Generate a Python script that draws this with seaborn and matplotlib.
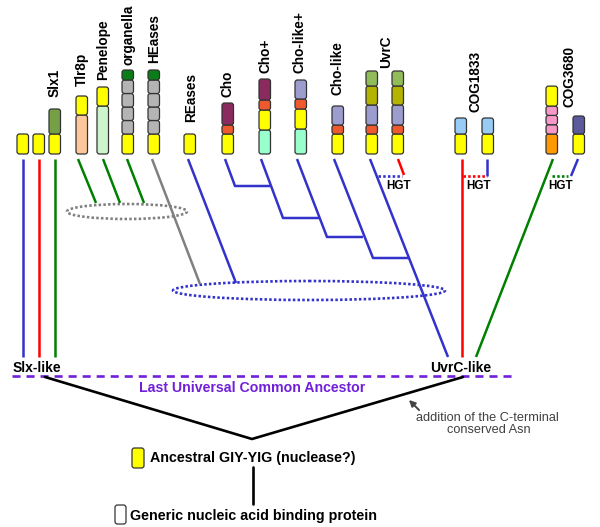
import pandas as pd
import matplotlib.pyplot as plt
from matplotlib.patches import FancyBboxPatch, Ellipse
import seaborn as sns

# domain colours
YEL = '#ffff00'
SLX = '#76a045'
PEACH = '#fcc89b'
PALE = '#ccf5cc'
DKGRN = '#0b7d16'
GRAY = '#b4b4b4'
MAROON = '#8b2a5e'
RED = '#ee5a2e'
AQUA = '#99ffcc'
LAV = '#9c9ccf'
LTGRN = '#92bc5a'
OLIVE = '#b3b300'
LTBLUE = '#99ccf5'
PINK = '#f799c8'
ORANGE = '#ff9900'
SLATE = '#5b5b9b'

# domain stacks (top -> bottom): colour and block height
col_left = [17, 33, 49, 76, 97, 122, 148, 184, 222, 259, 295, 332, 366, 392, 455, 482, 546, 573]
col_domains = [
    [(YEL, 20)],
    [(YEL, 20)],
    [(SLX, 25), (YEL, 20)],
    [(YEL, 19), (PEACH, 39)],
    [(YEL, 19), (PALE, 48)],
    [(DKGRN, 10), (GRAY, 13.5), (GRAY, 13.5), (GRAY, 13.5), (GRAY, 13.5), (YEL, 20)],
    [(DKGRN, 10), (GRAY, 13.5), (GRAY, 13.5), (GRAY, 13.5), (GRAY, 13.5), (YEL, 20)],
    [(YEL, 20)],
    [(MAROON, 22), (RED, 9), (YEL, 20)],
    [(MAROON, 21), (RED, 10), (YEL, 20), (AQUA, 24)],
    [(LAV, 19), (RED, 10), (YEL, 20), (AQUA, 25)],
    [(LAV, 19), (RED, 9), (YEL, 20)],
    [(LTGRN, 15), (OLIVE, 19), (LAV, 20), (RED, 9), (YEL, 20)],
    [(LTGRN, 15), (OLIVE, 19), (LAV, 20), (RED, 9), (YEL, 20)],
    [(LTBLUE, 16), (YEL, 20)],
    [(LTBLUE, 16), (YEL, 20)],
    [(YEL, 20), (PINK, 9.3), (PINK, 9.3), (PINK, 9.3), (ORANGE, 20)],
    [(SLATE, 18), (YEL, 20)],
]

# rotated family labels
fam_names = ['Slx1', 'Tlr8p', 'Penelope', 'organella', 'HEases', 'REases', 'Cho', 'Cho+',
             'Cho-like+', 'Cho-like', 'UvrC', 'COG1833', 'COG3680']
fam_x = [55, 82, 103, 128, 154, 191, 228, 265, 300, 337, 386, 476, 570]
fam_bottom = [97, 86, 80, 65, 63, 122, 97, 73, 73, 95, 68, 112, 107]

# tree branches
BLUE = '#3333cc'
branches = [
    ('slx_a', BLUE, [(23, 159), (23, 357)]),
    ('slx_b', '#ff0000', [(39, 159), (39, 357)]),
    ('slx_c', '#008000', [(55, 159), (55, 357)]),
    ('tlr8p', '#008000', [(78, 159), (96, 203)]),
    ('penelope', '#008000', [(103, 159), (120, 203)]),
    ('organella', '#008000', [(127, 159), (144, 203)]),
    ('heases', '#808080', [(152, 159), (200, 284)]),
    ('reases', BLUE, [(188, 159), (236, 283)]),
    ('cho', BLUE, [(225, 159), (235, 186), (270, 186)]),
    ('cho_plus', BLUE, [(261, 159), (283, 218), (320, 218)]),
    ('cholike_plus', BLUE, [(297, 159), (327, 237), (363, 237)]),
    ('cholike', BLUE, [(334, 159), (373, 258), (409, 258)]),
    ('uvrc', BLUE, [(370, 159), (448, 357)]),
    ('uvrc_hgt', '#ff0000', [(398, 159), (404, 175)]),
    ('cog1833', '#ff0000', [(462, 159), (462, 357)]),
    ('cog1833_hgt', BLUE, [(487, 159), (487, 176)]),
    ('cog3680', '#008000', [(553, 159), (476, 357)]),
    ('cog3680_hgt', BLUE, [(578, 159), (571, 176)]),
]

# horizontal gene transfer links
hgt_x0 = [378, 463, 552]
hgt_x1 = [402, 487, 568]
hgt_colors = [BLUE, '#ff0000', '#008000']
hgt_label_x = [399, 479, 561]

PURPLE = '#7020d8'


def main():
    sns.set_theme(style='white')
    plt.rcParams['font.family'] = ['Liberation Sans', 'DejaVu Sans']
    plt.rcParams['lines.scale_dashes'] = False

    fig = plt.figure(figsize=(6, 5.27), dpi=100)
    ax = fig.add_axes([0, 0, 1, 1])

    # domain blocks
    for left, doms in zip(col_left, col_domains):
        y = 154
        for color, h in reversed(doms):
            ax.add_patch(FancyBboxPatch((left, y - h), 11.5, h,
                                        boxstyle='round,pad=0,rounding_size=2.5',
                                        fc=color, ec='#333333', lw=0.9, zorder=3))
            y -= h

    for name, x, yb in zip(fam_names, fam_x, fam_bottom):
        ax.text(x, yb, name, rotation=90, ha='center', va='bottom',
                fontsize=9.8, fontweight='bold', color='black')

    # branches through seaborn
    rows = []
    for bid, color, pts in branches:
        for i, (x, y) in enumerate(pts):
            rows.append({'branch': bid, 'order': i, 'x': x, 'y': y, 'color': color})
    df = pd.DataFrame(rows)
    pal = {c: c for c in df['color'].unique()}
    sns.lineplot(data=df, x='x', y='y', units='branch', hue='color', palette=pal,
                 estimator=None, sort=False, legend=False, lw=1.8, ax=ax,
                 solid_capstyle='butt')

    # HGT dotted links
    for x0, x1, c, lx in zip(hgt_x0, hgt_x1, hgt_colors, hgt_label_x):
        ax.plot([x0, x1], [176, 176], color=c, lw=1.9, dashes=(1.8, 1.6))
        ax.text(lx, 186, 'HGT', ha='center', va='center', fontsize=8.4,
                fontweight='bold', color='black')

    # dotted ellipses
    ax.add_patch(Ellipse((127, 211.5), 120, 15, fill=False, ec='#808080', lw=1.9,
                         linestyle=(0, (1.8, 1.6))))
    ax.add_patch(Ellipse((309, 290.5), 272, 19, fill=False, ec=BLUE, lw=1.9,
                         linestyle=(0, (1.8, 1.6))))

    # LUCA line
    ax.plot([12, 515], [376, 376], color=PURPLE, lw=1.9, dashes=(5.8, 4.3))
    ax.text(252, 388, 'Last Universal Common Ancestor', ha='center', va='center',
            fontsize=10.2, fontweight='bold', color=PURPLE)
    ax.text(37, 368, 'Slx-like', ha='center', va='center', fontsize=10,
            fontweight='bold', color='black')
    ax.text(461, 368, 'UvrC-like', ha='center', va='center', fontsize=10,
            fontweight='bold', color='black')

    # root
    ax.plot([45, 252, 463], [377, 439, 377], color='black', lw=1.9)
    ax.plot([253, 253], [467, 504], color='black', lw=1.9)

    ax.annotate('', xy=(407, 398), xytext=(421, 412),
                arrowprops=dict(arrowstyle='-|>', color='#444444', lw=1.4,
                                mutation_scale=9))
    ax.text(487, 418, 'addition of the C-terminal', ha='center', va='center',
            fontsize=9.2, color='#404040')
    ax.text(489, 430, 'conserved Asn', ha='center', va='center',
            fontsize=9.2, color='#404040')

    # legend boxes
    ax.add_patch(FancyBboxPatch((132, 448), 12, 20, boxstyle='round,pad=0,rounding_size=2.5',
                                fc=YEL, ec='#333333', lw=0.9))
    ax.text(150, 458, 'Ancestral GIY-YIG (nuclease?)', ha='left', va='center',
            fontsize=10.3, fontweight='bold', color='black')
    ax.add_patch(FancyBboxPatch((115, 505), 11, 19, boxstyle='round,pad=0,rounding_size=2.5',
                                fc='white', ec='#333333', lw=0.9))
    ax.text(130, 516, 'Generic nucleic acid binding protein', ha='left', va='center',
            fontsize=10.3, fontweight='bold', color='black')

    ax.set_xlim(0, 600)
    ax.set_ylim(527, 0)
    ax.axis('off')

    fig.savefig('out.png', dpi=100, facecolor='white')


if __name__ == '__main__':
    main()
